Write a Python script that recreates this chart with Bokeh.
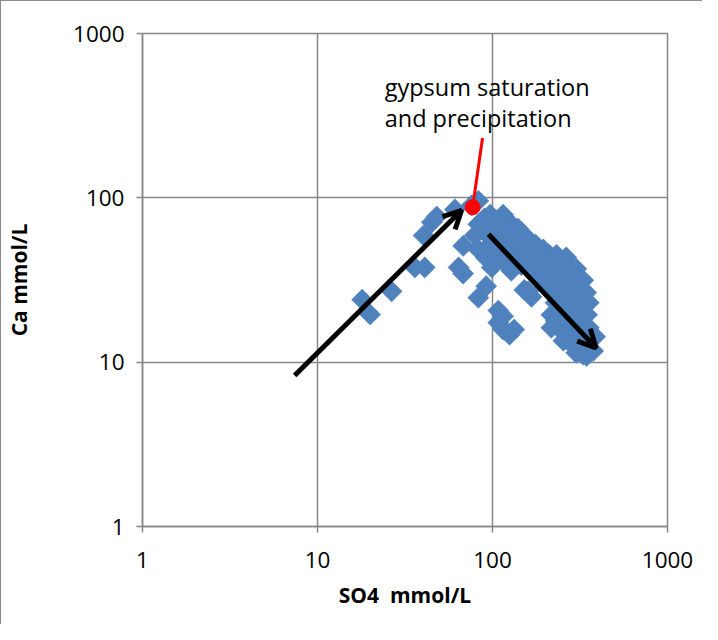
import numpy as np
from bokeh.plotting import figure
from bokeh.models import (Arrow, OpenHead, Label, FixedTicker, NumeralTickFormatter)
from bokeh.embed import file_html
from bokeh.resources import INLINE

# ---- data ----
so4 = [18, 20, 26.5, 36, 41, 40.4, 45, 48, 61, 64, 68, 68, 76, 83,
       83, 79, 90, 83, 92, 103, 123, 92, 83, 108, 115, 108, 115, 133, 125, 160, 152, 167,
       97, 105, 115, 125, 103, 113, 131, 142, 160, 176, 195, 211, 97, 107, 120, 137, 156, 178, 203,
       99, 115, 128, 146, 167, 185,
       110, 120, 135, 150, 165, 185, 128, 145, 160, 190, 105, 140, 90, 100,
       232, 264, 203, 232, 274, 301, 190, 217, 254, 301, 330,
       225, 271, 321, 343,
       229, 282, 330, 355,
       217, 247, 271, 321, 347,
       217, 241, 282, 334, 355,
       254, 271, 321, 347, 386,
       301, 330, 376,
       245, 280, 210, 250, 290, 200, 260, 300, 245, 300, 260, 300, 230, 290, 260, 330, 300, 355, 345]
ca = [24, 19.5, 27, 37.7, 37.7, 59, 71, 77, 85, 37.7, 34.6, 51, 90, 96,
      69, 59, 62, 48.5, 43, 48, 40, 29, 24.7, 20.6, 19, 17.4, 15.8, 15.8, 14.7, 27, 27.5, 25,
      79, 73, 79, 71, 62, 65, 63, 58, 56, 52, 48.5, 45, 52, 55, 53.6, 50, 47.8, 45, 41.6,
      37.7, 41.6, 36, 39, 36, 34,
      70, 60, 57, 52, 48, 44, 46, 44, 42, 39, 45, 65, 75, 68,
      45, 43.4, 39, 39, 39, 37, 32.7, 32.7, 32.7, 32.7, 31.5,
      26.5, 27, 27, 26.5,
      23, 23, 23, 23,
      19.4, 19.4, 19.4, 19.4, 19.4,
      16.2, 16.2, 16.2, 16.2, 16.2,
      13.5, 13.5, 13.5, 12.8, 14.3,
      11.4, 11.1, 11.7,
      36, 34, 36, 30, 29, 29, 25, 25, 21, 21, 17.8, 17.8, 17.8, 15, 14.8, 14.8, 12.5, 13.3, 10.9]

x_ticks = [1, 10, 100, 1000]
y_ticks = [1, 10, 100, 1000]

# annotation points
gyp_x, gyp_y = 77, 87.6
arrow1 = (7.4, 8.3, 66.6, 84.0)
arrow2 = (94.9, 60.0, 391, 12.2)

GRID = "#868686"
FONT = "Open Sans"

p = figure(width=702, height=624, x_axis_type="log", y_axis_type="log",
           x_range=(1, 1000), y_range=(1, 1000),
           output_backend="svg", toolbar_location=None,
           min_border_left=141, min_border_right=36, min_border_top=32, min_border_bottom=99,
           background_fill_color="white", border_fill_color="white")

p.outline_line_color = GRID
p.outline_line_width = 1.5

for ax, ticks in ((p.xaxis, x_ticks), (p.yaxis, y_ticks)):
    ax.ticker = FixedTicker(ticks=ticks, minor_ticks=[])
    ax.formatter = NumeralTickFormatter(format="0")
    ax.axis_line_color = GRID
    ax.axis_line_width = 1.5
    ax.major_tick_line_color = GRID
    ax.major_tick_line_width = 1.5
    ax.major_tick_in = 0
    ax.major_tick_out = 6
    ax.minor_tick_line_color = None
    ax.major_label_text_font = FONT
    ax.major_label_text_font_size = "22.5px"
    ax.major_label_text_color = "black"
    ax.axis_label_text_font = FONT
    ax.axis_label_text_font_size = "21px"
    ax.axis_label_text_font_style = "bold"
    ax.axis_label_text_color = "black"

p.xaxis.major_label_standoff = 19
p.yaxis.major_label_standoff = 12
p.xaxis.axis_label = "SO4\u00a0 mmol/L"
p.yaxis.axis_label = "Ca mmol/L"
p.xaxis.axis_label_standoff = 10
p.yaxis.axis_label_standoff = 37

p.grid.grid_line_color = GRID
p.grid.grid_line_width = 1.5
p.grid.minor_grid_line_color = None

p.scatter(so4, ca, marker="square", angle=np.pi / 4, size=15,
          fill_color="#4F81BD", line_color="#4F81BD", line_width=0.5)

# red marker & leader
p.line([gyp_x, 87.7], [gyp_y, 231], line_color="red", line_width=3)
p.scatter([gyp_x], [gyp_y], marker="circle", size=15, fill_color="red", line_color="red")

for (xs, ys, xe, ye) in (arrow1, arrow2):
    p.add_layout(Arrow(end=OpenHead(line_color="black", line_width=5, size=18),
                       x_start=xs, y_start=ys, x_end=xe, y_end=ye,
                       line_color="black", line_width=5))

p.add_layout(Label(x=24.2, y=474, text="gypsum saturation", text_font=FONT,
                   text_font_size="23.5px", text_color="black", text_baseline="middle"))
p.add_layout(Label(x=24.2, y=306, text="and precipitation", text_font=FONT,
                   text_font_size="23.5px", text_color="black", text_baseline="middle"))

p.styles = {"border-left": "1.5px solid #8c8c8c", "border-top": "1.5px solid #8c8c8c"}

open("out.html", "w").write(file_html(p, INLINE))
